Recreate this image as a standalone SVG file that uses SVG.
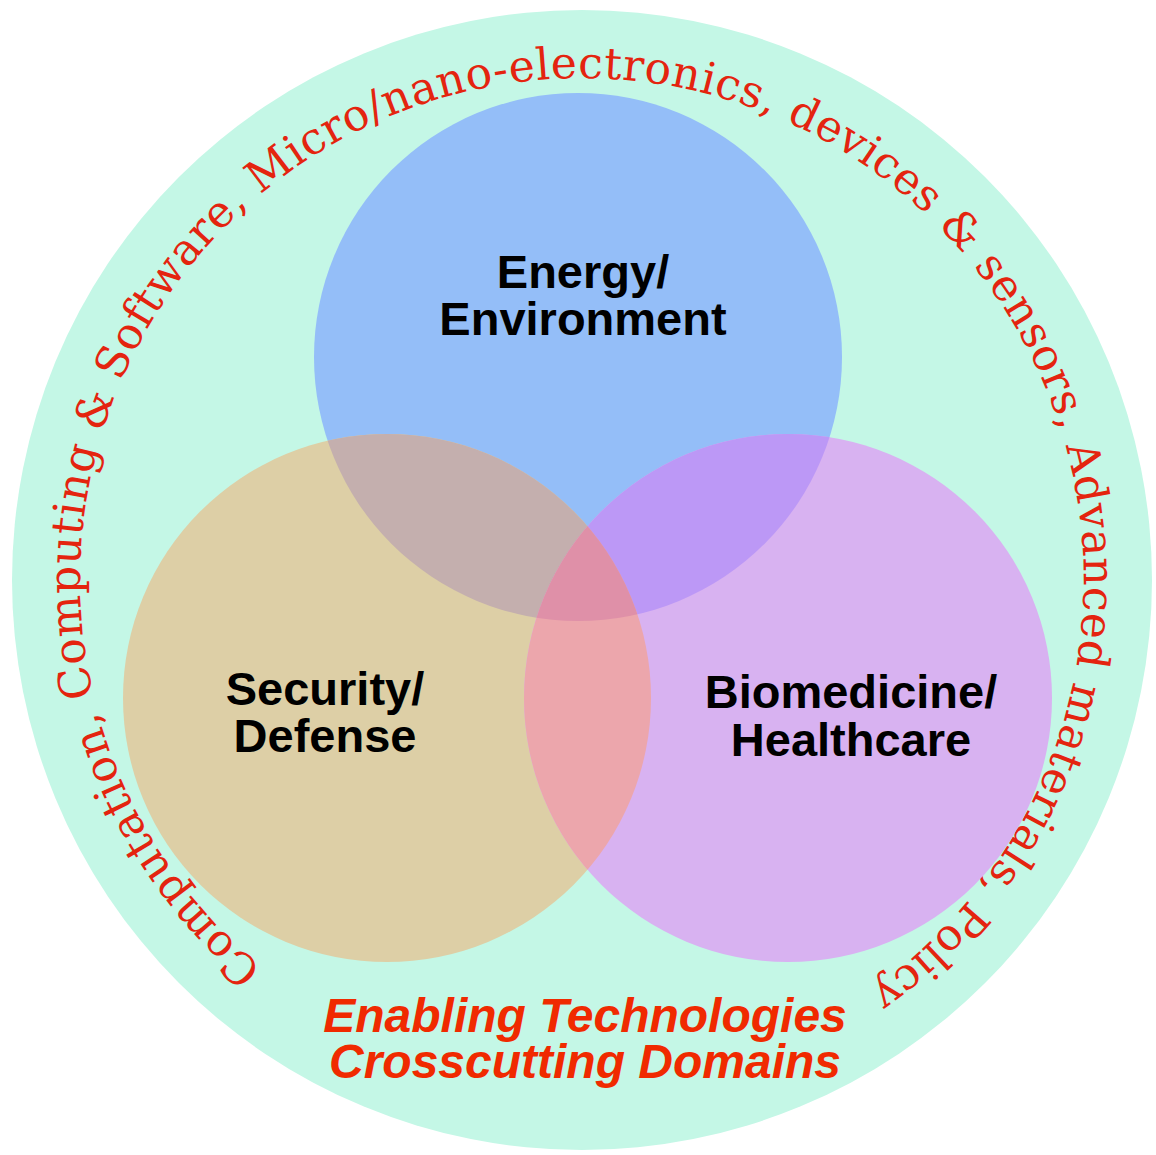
<svg xmlns="http://www.w3.org/2000/svg" xmlns:xlink="http://www.w3.org/1999/xlink" width="1156" height="1155" viewBox="0 0 1156 1155">
<style>
.lbl{font-family:"Liberation Sans",Arial,sans-serif;font-weight:bold;font-size:47px;fill:#000;text-anchor:middle}
.foot{font-family:"Liberation Sans",Arial,sans-serif;font-weight:bold;font-style:italic;font-size:48px;fill:#f02a00;text-anchor:middle}
.arc{font-family:"DejaVu Serif","Liberation Serif",serif;font-size:44px;letter-spacing:0.6px;fill:#e4240f}
</style>
<defs>
<clipPath id="cBlue"><circle cx="578" cy="357" r="264"/></clipPath>
<clipPath id="cTan"><circle cx="387" cy="698" r="264"/></clipPath>
<path id="ringPath" d="M 262.7 967.4 A 502 502 0 0 1 833 145.3 A 502 502 0 0 1 410.3 1051.7"/>
</defs>
<rect width="1156" height="1155" fill="#ffffff"/>
<g id="enabling-domain">
<circle cx="582" cy="580" r="570" fill="#c4f7e6"/>
<text class="arc"><textPath xlink:href="#ringPath" href="#ringPath">Computation, Computing &amp; Software, Micro/nano-electronics, devices &amp; sensors, Advanced materials, Policy</textPath></text>
<text class="foot" x="585" y="1032">Enabling Technologies</text>
<text class="foot" x="585" y="1078">Crosscutting Domains</text>
</g>
<g id="energy-environment">
<circle cx="578" cy="357" r="264" fill="#94bef8"/>
</g>
<g id="security-defense">
<circle cx="387" cy="698" r="264" fill="#ddcfa6"/>
</g>
<g id="biomedicine-healthcare">
<circle cx="788" cy="698" r="264" fill="#d8b2f1"/>
</g>
<g id="overlaps">
<circle cx="387" cy="698" r="264" fill="#c4afae" clip-path="url(#cBlue)"/>
<circle cx="788" cy="698" r="264" fill="#bc98f6" clip-path="url(#cBlue)"/>
<circle cx="788" cy="698" r="264" fill="#eca6ac" clip-path="url(#cTan)"/>
<g clip-path="url(#cBlue)"><circle cx="788" cy="698" r="264" fill="#df90a8" clip-path="url(#cTan)"/></g>
</g>
<g id="labels">
<text class="lbl" x="583" y="288">Energy/</text>
<text class="lbl" x="583" y="335">Environment</text>
<text class="lbl" x="325" y="705">Security/</text>
<text class="lbl" x="325" y="752">Defense</text>
<text class="lbl" x="851" y="708">Biomedicine/</text>
<text class="lbl" x="851" y="756">Healthcare</text>
</g>
<g id="connectors"/>
</svg>
